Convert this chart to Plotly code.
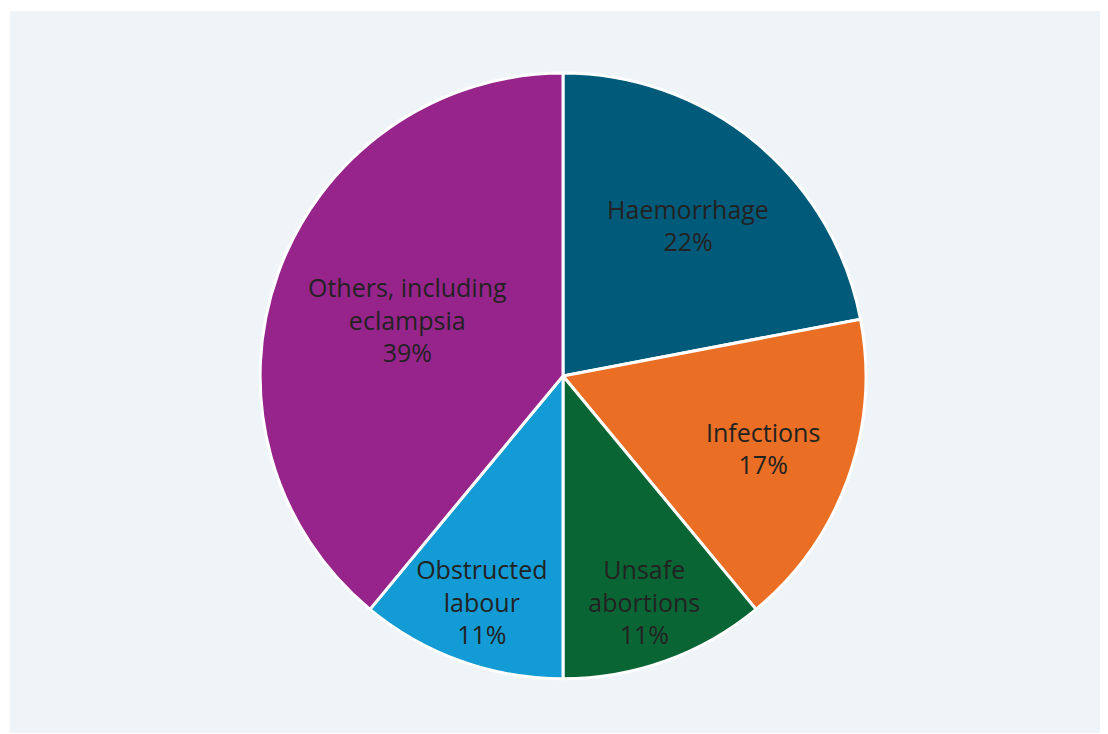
import plotly.graph_objects as go

# ── data ──────────────────────────────────────────────────────────────────────
causes = ["Haemorrhage", "Infections", "Unsafe<br>abortions",
          "Obstructed<br>labour", "Others, including<br>eclampsia"]
shares = [22, 17, 11, 11, 39]
colors = ["#005a7a", "#ea6e24", "#0a6535", "#129bd5", "#97248b"]

common = dict(labels=causes, values=shares, sort=False, direction="clockwise",
              rotation=0, showlegend=False)

# ── figure ────────────────────────────────────────────────────────────────────
fig = go.Figure()

# the coloured slices
fig.add_trace(go.Pie(
    **common,
    marker=dict(colors=colors, line=dict(color="white", width=3)),
    textinfo="none",
    hoverinfo="label+percent",
    domain=dict(x=[0.226, 0.774], y=[0.075, 0.914]),
))

# invisible, slightly larger copy that only carries the labels,
# so they sit a bit further out like in the original
fig.add_trace(go.Pie(
    **common,
    marker=dict(colors=["rgba(0,0,0,0)"] * len(shares), line=dict(width=0)),
    texttemplate="%{label}<br>%{percent:.0%}",
    textposition="inside",
    insidetextorientation="horizontal",
    textfont=dict(family="Open Sans, sans-serif", size=25, color="#222222"),
    hoverinfo="skip",
    domain=dict(x=[0.2098, 0.7903], y=[0.0499, 0.939]),
))

# page body adds an 8px offset, so margins are trimmed to compensate
fig.update_layout(
    width=1108, height=734,
    paper_bgcolor="white",
    margin=dict(l=2, r=0, t=3, b=9),
    shapes=[dict(type="rect", xref="paper", yref="paper", x0=0, x1=1.01, y0=0, y1=1,
                 fillcolor="#eef4f8", line=dict(width=0), layer="below")],
    uniformtext=dict(minsize=25, mode="show"),
)

fig.write_html("out.html")
